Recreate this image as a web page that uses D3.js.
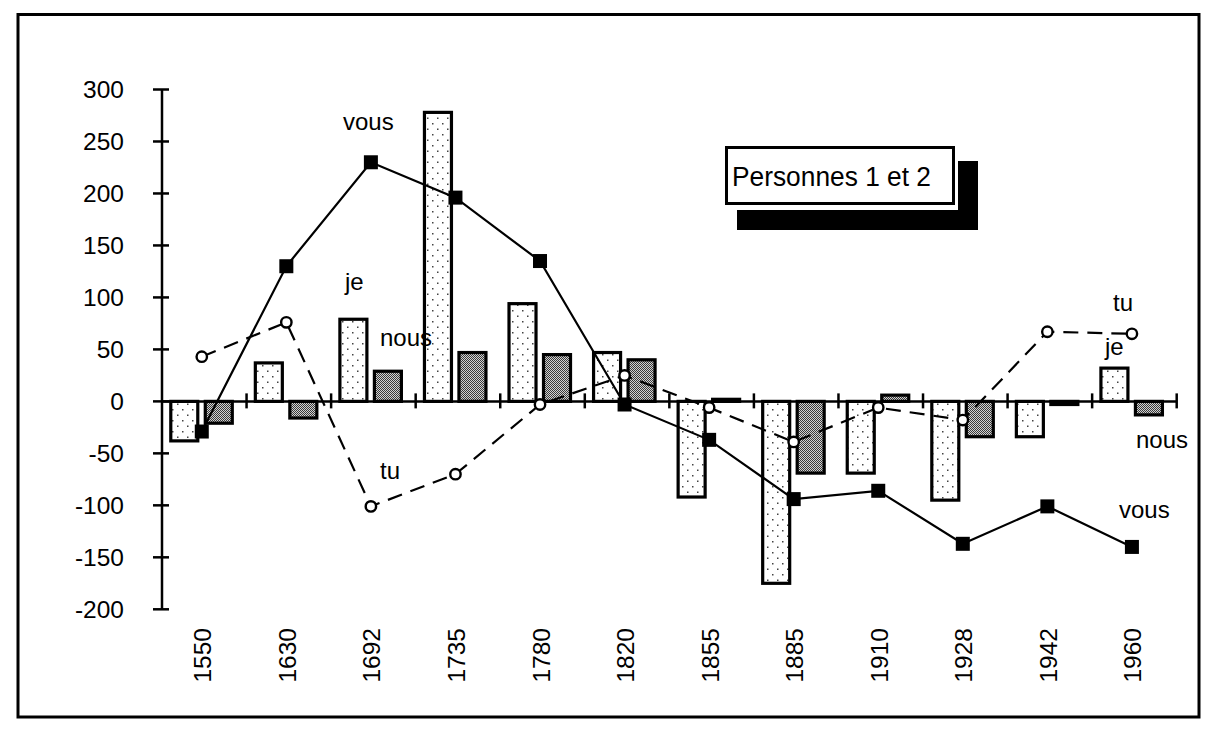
<!DOCTYPE html>
<html>
<head>
<meta charset="utf-8">
<script src="https://cdn.jsdelivr.net/npm/d3@7"></script>
<style>
  html, body { margin: 0; padding: 0; background: #fff; }
  svg { display: block; font-family: "Liberation Sans", Arial, sans-serif; }
</style>
</head>
<body>
<svg id="chart" width="1217" height="735"></svg>
<script>
// Years (categories) and the four series: je / nous as bars, vous / tu as lines
const years = ["1550","1630","1692","1735","1780","1820","1855","1885","1910","1928","1942","1960"];
const je    = [-38, 37, 79, 278, 94, 47, -92, -175, -69, -95, -34, 32];
const nous  = [-21, -16, 29, 47, 45, 40, 2, -69, 6, -34, -3, -13];
const vous  = [-29, 130, 230, 196, 135, -3, -37, -94, -86, -137, -101, -140];
const tu    = [43, 76, -101, -70, -3, 25, -6, -39, -6, -18, 67, 65];
const yTicks = [300, 250, 200, 150, 100, 50, 0, -50, -100, -150, -200];
const legendTitle = "Personnes 1 et 2";

// Series name labels written next to their marks
const seriesLabels = [
  { text: "vous", x: 343,  y: 130 },
  { text: "je",   x: 345,  y: 290 },
  { text: "nous", x: 380,  y: 346 },
  { text: "tu",   x: 380,  y: 479 },
  { text: "tu",   x: 1113, y: 311 },
  { text: "je",   x: 1105, y: 355 },
  { text: "nous", x: 1136, y: 448 },
  { text: "vous", x: 1119, y: 518 }
];

const svg = d3.select("#chart");

// ---- patterns ----
const defs = svg.append("defs");
const pDots = defs.append("pattern")
  .attr("id", "dots").attr("patternUnits", "userSpaceOnUse")
  .attr("width", 10).attr("height", 11);
pDots.append("rect").attr("width", 10).attr("height", 11).attr("fill", "#fff");
pDots.append("rect").attr("x", 2).attr("y", 2).attr("width", 1.5).attr("height", 1.5).attr("fill", "#444");
pDots.append("rect").attr("x", 7).attr("y", 7.5).attr("width", 1.5).attr("height", 1.5).attr("fill", "#444");

const pDark = defs.append("pattern")
  .attr("id", "dark").attr("patternUnits", "userSpaceOnUse")
  .attr("width", 2).attr("height", 2);
pDark.append("rect").attr("width", 2).attr("height", 2).attr("fill", "#d2d2d2");
pDark.append("rect").attr("x", 0).attr("y", 0).attr("width", 1).attr("height", 1).attr("fill", "#3a3a3a");
pDark.append("rect").attr("x", 1).attr("y", 1).attr("width", 1).attr("height", 1).attr("fill", "#3a3a3a");

// ---- outer frame ----
svg.append("rect")
  .attr("x", 18).attr("y", 14.5).attr("width", 1181).attr("height", 702.5)
  .attr("fill", "none").attr("stroke", "#000").attr("stroke-width", 3);

// ---- scales ----
const x = d3.scaleBand().domain(years).range([162, 1176.7]).padding(0);
const y = d3.scaleLinear().domain([-200, 300]).range([609.3, 89.5]);
const shift = -2.5;                       // group centre within the band
const px = d => x(d) + x.bandwidth() / 2 + shift;
const barW = 30, barGap = 2;

// ---- bars ----
function drawBars(values, fillId, offset) {
  svg.append("g").selectAll("rect")
    .data(values.map((v, i) => ({ year: years[i], v })))
    .join("rect")
    .attr("x", d => px(d.year) + offset + 1.5)
    .attr("width", barW - 3)
    .attr("y", d => Math.min(y(0), y(d.v)))
    .attr("height", d => Math.abs(y(d.v) - y(0)))
    .attr("fill", `url(#${fillId})`)
    .attr("stroke", "#000").attr("stroke-width", 3.2);
}
drawBars(je, "dots", -barW - 2.5);
drawBars(nous, "dark", barGap);

// ---- axes ----
const axisG = svg.append("g").attr("stroke", "#000").attr("stroke-width", 2.5);
axisG.append("line").attr("x1", 162).attr("x2", 162).attr("y1", y(300)).attr("y2", y(-200));
axisG.selectAll(".yt").data(yTicks).join("line")
  .attr("x1", 153).attr("x2", 169).attr("y1", d => y(d)).attr("y2", d => y(d));
axisG.append("line").attr("x1", 162).attr("x2", x.range()[1]).attr("y1", y(0)).attr("y2", y(0));
const bounds = years.slice(1).map(d => x(d)).concat([x.range()[1]]);
axisG.selectAll(".xt").data(bounds).join("line")
  .attr("x1", d => d).attr("x2", d => d).attr("y1", y(0) - 8).attr("y2", y(0) + 7);

svg.append("g").selectAll("text").data(yTicks).join("text")
  .attr("x", 124).attr("y", d => y(d)).attr("dy", "0.35em")
  .attr("text-anchor", "end").attr("font-size", 24.5).attr("fill", "#000")
  .text(d => d);

svg.append("g").selectAll("text").data(years).join("text")
  .attr("transform", d => `translate(${px(d) + 1},628) rotate(-90)`)
  .attr("dy", "0.35em").attr("text-anchor", "end")
  .attr("font-size", 24.5).attr("fill", "#000")
  .text(d => d);

// ---- lines ----
const line = d3.line().x(d => px(d.year)).y(d => y(d.v));
const vousPts = vous.map((v, i) => ({ year: years[i], v }));
const tuPts = tu.map((v, i) => ({ year: years[i], v }));

svg.append("path").datum(tuPts).attr("d", line)
  .attr("fill", "none").attr("stroke", "#000").attr("stroke-width", 2.2)
  .attr("stroke-dasharray", "15,9");
svg.append("path").datum(vousPts).attr("d", line)
  .attr("fill", "none").attr("stroke", "#000").attr("stroke-width", 2.2);

svg.append("g").selectAll("rect").data(vousPts).join("rect")
  .attr("x", d => px(d.year) - 7).attr("y", d => y(d.v) - 7)
  .attr("width", 14).attr("height", 14).attr("fill", "#000");
svg.append("g").selectAll("circle").data(tuPts).join("circle")
  .attr("cx", d => px(d.year)).attr("cy", d => y(d.v)).attr("r", 5.2)
  .attr("fill", "#fff").attr("stroke", "#000").attr("stroke-width", 2.4);

// ---- series labels ----
svg.append("g").selectAll("text").data(seriesLabels).join("text")
  .attr("x", d => d.x).attr("y", d => d.y)
  .attr("font-size", 24).attr("fill", "#000")
  .text(d => d.text);

// ---- title box with drop shadow ----
const lg = svg.append("g");
lg.append("rect").attr("x", 737).attr("y", 161).attr("width", 241).attr("height", 69).attr("fill", "#000");
lg.append("rect").attr("x", 722).attr("y", 143).attr("width", 236).attr("height", 67).attr("fill", "#fff");
lg.append("rect").attr("x", 726.5).attr("y", 147.5).attr("width", 227).attr("height", 56)
  .attr("fill", "#fff").attr("stroke", "#000").attr("stroke-width", 3);
lg.append("text").attr("x", 732).attr("y", 186)
  .attr("font-size", 27).attr("fill", "#000")
  .attr("textLength", 199).attr("lengthAdjust", "spacingAndGlyphs")
  .text(legendTitle);
</script>
</body>
</html>
